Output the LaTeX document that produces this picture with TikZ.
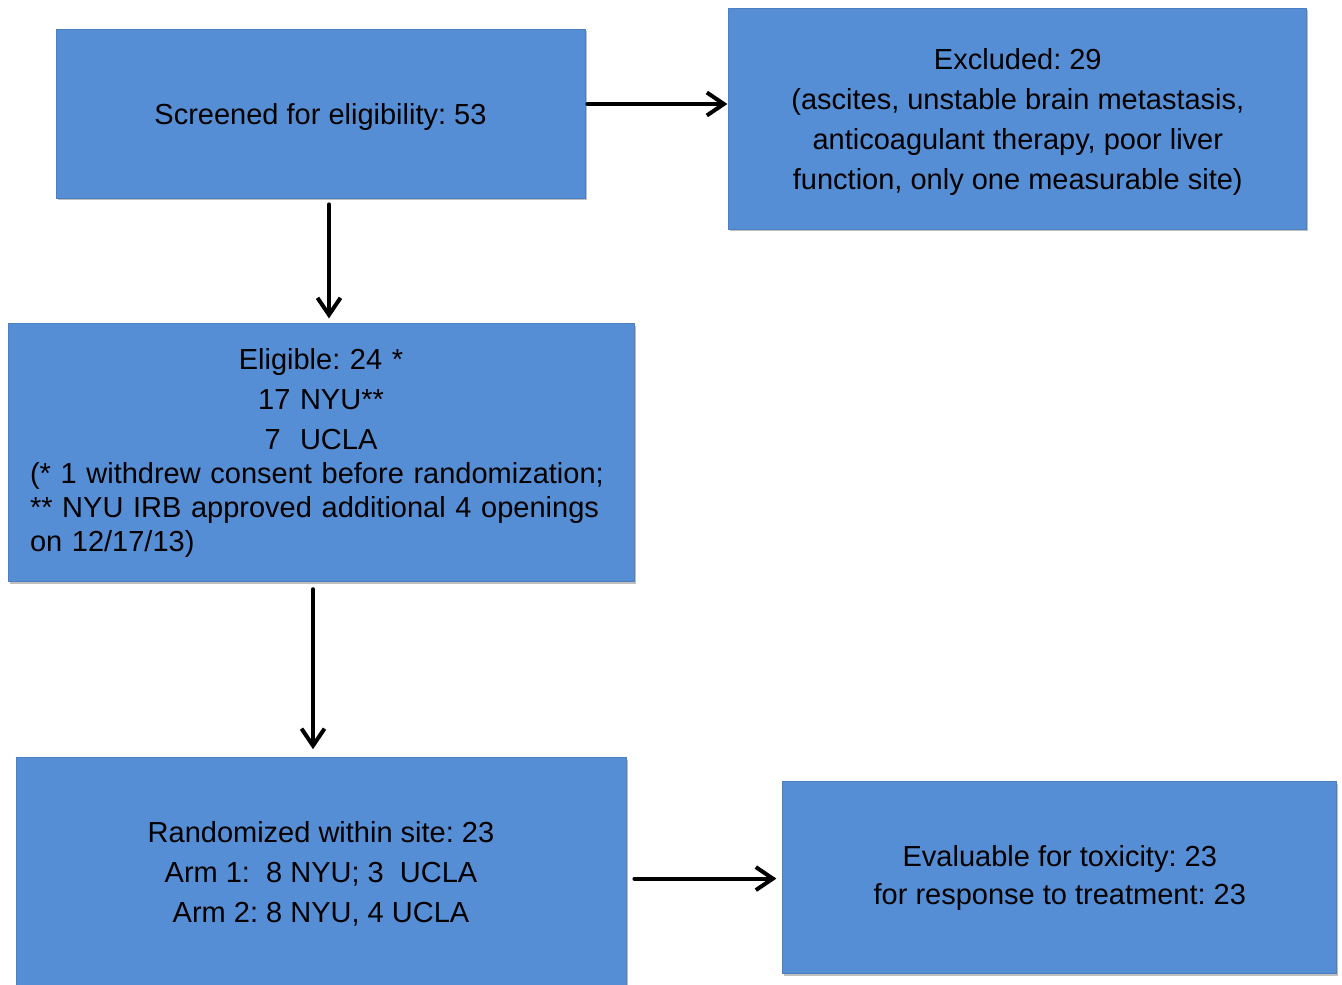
\documentclass[tikz,border=0pt]{standalone}
\usepackage{fontspec}
\setmainfont{Liberation Sans}
\usetikzlibrary{positioning,arrows.meta,shadows}
\definecolor{boxblue}{RGB}{85,142,213}

\begin{document}
\frenchspacing
\begin{tikzpicture}[%
    x=0.5pt, y=-0.5pt,
    node distance=1cm,
    stage/.style={%
      rectangle,
      fill=boxblue,
      draw=boxblue!90!black,
      line width=0.4pt,
      inner sep=0pt,
      align=center,
      font=\fontsize{14.5}{20}\selectfont,
      drop shadow={shadow xshift=0.8pt, shadow yshift=-1.2pt, fill=black, opacity=0.25}
    },
    flow/.style={%
      line width=2pt,
      line cap=round,
      -{Straight Barb[length=8.5pt,width=11.5pt,line width=2pt]}
    }
  ]
    \useasboundingbox (0,0) rectangle (1342,984);
    \node[stage, minimum width=264.5pt, minimum height=84.5pt, text depth=-3pt] (screen) at (320.5,113.5)
        {Screened for eligibility: 53};
    \node[stage, minimum width=289pt, minimum height=110.5pt, text depth=-3pt] (excl) [right=71.5pt of screen, yshift=-2.5pt]
        {Excluded: 29\\(ascites, unstable brain metastasis,\\anticoagulant therapy, poor liver\\function, only one measurable site)};
    \node[stage, minimum width=313pt, minimum height=129pt, text width=291pt, align=left] (elig) [below=62.5pt of screen, xshift=0.25pt]
        {\centering Eligible: 24 *\\17 NYU**\\7~~UCLA\par
         \raggedright\fontsize{14.5}{17}\selectfont
         (* 1 withdrew consent before randomization;\\{}** NYU IRB approved additional 4 openings\\on 12/17/13)\par};
    \node[stage, minimum width=305pt, minimum height=116pt] (rand) [below=87.5pt of elig]
        {Randomized within site: 23\\Arm 1:~~8 NYU; 3~~UCLA\\Arm 2: 8 NYU, 4 UCLA};
    \node[stage, minimum width=277pt, minimum height=96pt, font=\fontsize{14.5}{19}\selectfont] (eval) [right=78pt of rand, yshift=-2pt]
        {Evaluable for toxicity: 23\\for response to treatment: 23};

    \coordinate (a1) at ([yshift=4.75pt]screen.east);
    \coordinate (a2) at ([xshift=4.25pt]screen.south);
    \coordinate (a3) at ([xshift=-4pt]elig.south);
    \coordinate (a4) at ([yshift=-2.5pt]rand.east);

    \draw[flow, shorten <=1pt, shorten >=0.5pt] (a1) -- (a1 -| excl.west);
    \draw[flow, shorten <=3pt, shorten >=2.5pt] (a2) -- (a2 |- elig.north);
    \draw[flow, shorten <=3.5pt, shorten >=4pt] (a3) -- (a3 |- rand.north);
    \draw[flow, shorten <=4pt, shorten >=3pt] (a4) -- (a4 -| eval.west);
  \end{tikzpicture}
\end{document}
